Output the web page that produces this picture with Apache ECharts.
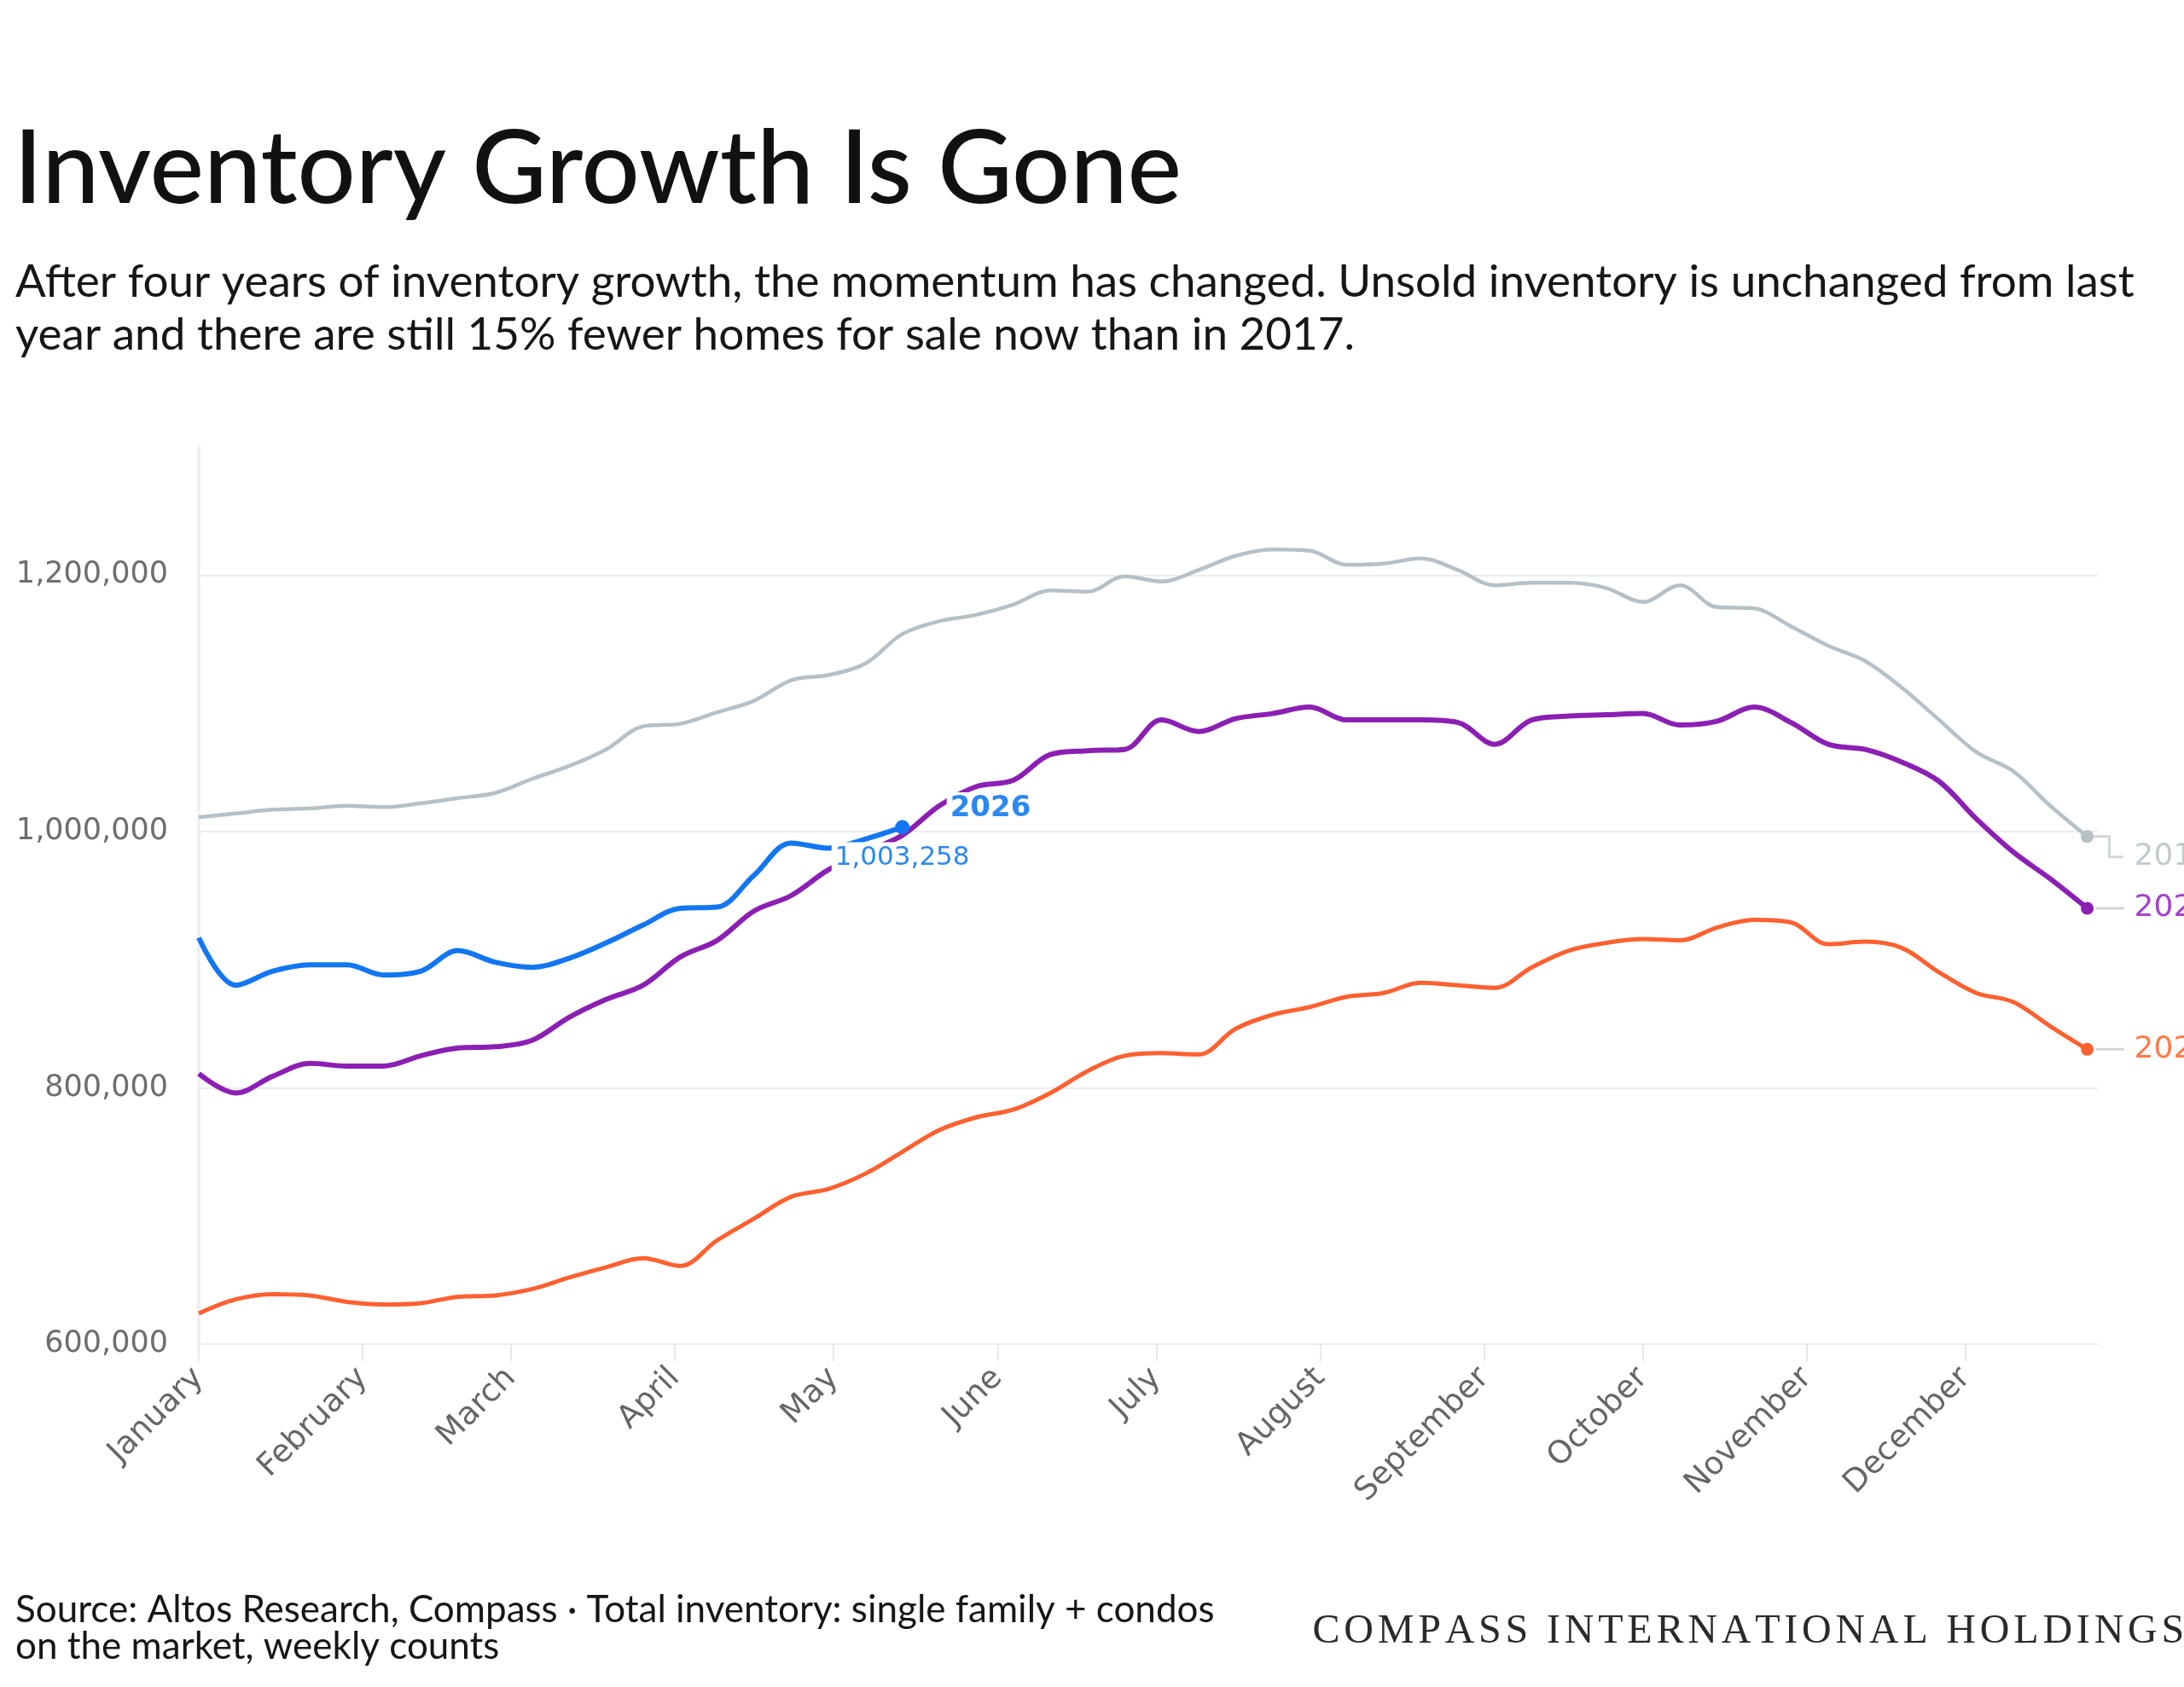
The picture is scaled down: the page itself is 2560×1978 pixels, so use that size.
<!DOCTYPE html>
<html><head><meta charset="utf-8">
<script src="https://cdn.jsdelivr.net/npm/echarts@6/dist/echarts.min.js"></script>
<style>html,body{margin:0;padding:0;background:#fff}#chart{width:2560px;height:1978px}</style>
</head><body><div id="chart"></div>
<script>
// ---- data ----
const monthNames = ['January','February','March','April','May','June','July','August','September','October','November','December'];
const monthStartDays = [0,31,59,90,120,151,181,212,243,273,304,334];
const weekDays = [0,7,14,21,28,35,42,49,56,63,70,77,84,91,98,105,112,119,126,133,140,147,154,161,168,175,182,189,196,203,210,217,224,231,238,245,252,259,266,273,280,287,294,301,308,315,322,329,336,343,350,357];
const yTicks = [600000, 800000, 1000000, 1200000];
const seriesNames = ['2017','2024','2025','2026'];
const y2017 = [1011000,1014000,1017000,1018000,1020000,1019000,1022000,1026000,1030000,1041000,1051000,1064000,1082000,1084000,1093000,1102000,1118000,1122000,1131000,1154000,1164000,1169000,1177000,1188000,1187000,1199000,1195000,1204000,1215000,1220000,1219000,1208000,1209000,1213000,1204000,1192000,1194000,1194000,1190000,1179000,1192000,1175000,1174000,1160000,1145000,1133000,1112000,1087000,1062000,1047000,1020000,996000];
const y2024 = [624000,635000,639000,638000,633000,631000,632000,637000,638000,643000,652000,660000,667000,661000,681000,698000,715000,721000,733000,750000,767000,777000,783000,796000,813000,825000,827000,826000,846000,857000,863000,871000,874000,882000,880000,878000,894000,907000,913000,916000,915000,925000,931000,929000,912000,914000,909000,890000,874000,867000,848000,830000];
const y2025 = [811000,796000,809000,819000,817000,817000,825000,831000,832000,837000,855000,869000,880000,902000,915000,938000,950000,970000,984000,997000,1020000,1035000,1040000,1060000,1063000,1064000,1087000,1078000,1088000,1092000,1097000,1087000,1087000,1087000,1085000,1068000,1087000,1090000,1091000,1092000,1083000,1086000,1097000,1085000,1068000,1064000,1054000,1039000,1010000,984000,963000,940000];
const y2026 = [917000,880000,891000,896000,896000,888000,891000,907000,898000,894000,901000,913000,927000,940000,941000,966000,991000,987000,994000,1003258];

const brandText = 'COMPASS INTERNATIONAL HOLDINGS';
const C = {gray:'#b6c0c6', orange:'#ff6030', purple:'#8c1fb3', blue:'#1276f2'};
const fmt = v => Number(v).toLocaleString('en-US');
const pair = arr => arr.map((v,i)=>[weekDays[i], v]);
const endSize = (n, s) => (val, p) => p.dataIndex === n-1 ? s : 0;

const labelFont = 'DejaVu Sans';
function endLab(text, color, dy){
  return {show:true, formatter:text, distance:0, offset:[55, dy], color:color,
    fontFamily:labelFont, fontSize:36, align:'left', verticalAlign:'middle'};
}
function lineSeries(name, arr, color, width, endLabel){
  return {
    name:name, type:'line', data:pair(arr), smooth:0.35,
    showSymbol:true, showAllSymbol:true, symbol:'circle', symbolSize:endSize(arr.length, 15),
    lineStyle:{color:color, width:width}, itemStyle:{color:color},
    endLabel:endLabel, emphasis:{disabled:true}, z:3
  };
}

const blueData = pair(y2026).map((d,i,a)=> i === a.length-1 ? {
  value:d, label:{show:true, position:'bottom', distance:9, formatter:p=>fmt(p.value[1]),
    color:'#2b88f0', fontFamily:labelFont, fontSize:31, backgroundColor:'#fff', padding:[3,4]}
} : d);

// brand text: each letter as a rich token so it can be letter-spaced
const brandRich = brandText.split('').map(ch => ch === ' ' ? '{s| }' : '{l|' + ch + '}').join('');
const brandStyle = {fontFamily:'Liberation Serif', fontSize:48, fontWeight:'normal', color:'#2a2a2a', padding:[0,2.4,0,2.4]};

const chart = echarts.init(document.getElementById('chart'), null, {renderer:'canvas'});
chart.setOption({
  animation:false,
  backgroundColor:'#fff',
  title:[
    {text:'Inventory Growth Is Gone', left:16, top:139, padding:0,
     textStyle:{fontFamily:'Lato', fontSize:120, fontWeight:500, color:'#111'}},
    {text:'After four years of inventory growth, the momentum has changed. Unsold inventory is unchanged from last\nyear and there are still 15% fewer homes for sale now than in 2017.',
     left:18, top:300, padding:0,
     textStyle:{fontFamily:'Lato', fontSize:53, lineHeight:62, fontWeight:'normal', color:'#161616'}},
    {text:'Source: Altos Research, Compass · Total inventory: single family + condos\non the market, weekly counts',
     left:18, top:1866, padding:0,
     textStyle:{fontFamily:'Lato', fontSize:44, lineHeight:43, fontWeight:'normal', color:'#161616'}},
    {text:brandRich, left:1536, top:1889, padding:0,
     textStyle:{fontWeight:'normal', fontFamily:'Liberation Serif', fontSize:48, rich:{l:brandStyle, s:brandStyle}}}
  ],
  grid:{left:233, right:101, top:524, bottom:402, containLabel:false},
  xAxis:{
    type:'value', min:0, max:359,
    axisLine:{show:false},
    splitLine:{show:false},
    axisTick:{show:true, customValues:monthStartDays, length:20, lineStyle:{color:'#e8e8e8', width:2}},
    axisLabel:{customValues:monthStartDays, formatter:v=>monthNames[monthStartDays.indexOf(v)],
      rotate:45, margin:34, fontFamily:labelFont, fontSize:37, color:'#666'}
  },
  yAxis:{
    type:'value', min:600000, max:1300000, interval:200000,
    axisLine:{show:true, lineStyle:{color:'#f0f0f0', width:4}},
    axisTick:{show:false},
    splitLine:{show:true, showMaxLine:false, lineStyle:{color:'#ececec', width:2}},
    axisLabel:{showMaxLabel:false, formatter:v=>fmt(v), margin:36, fontFamily:labelFont, fontSize:35, color:'#6e6e6e'}
  },
  series:[
    {type:'custom', coordinateSystem:'cartesian2d', silent:true, clip:false, z:1,
     data:[[weekDays[51], y2017[51]], [weekDays[51], y2025[51]], [weekDays[51], y2024[51]]],
     renderItem:(params, api)=>{
       const p = api.coord([api.value(0), api.value(1)]);
       const pts = params.dataIndex === 0
         ? [[p[0]+6,p[1]],[p[0]+26,p[1]],[p[0]+26,p[1]+24],[p[0]+42,p[1]+24]]
         : [[p[0]+10,p[1]],[p[0]+43,p[1]]];
       return {type:'polyline', shape:{points:pts}, style:{stroke:'#cfd5d8', lineWidth:3, fill:null}};
     }},
    lineSeries(seriesNames[0], y2017, C.gray, 4.5, endLab('2017', '#c3cbd0', 24)),
    lineSeries(seriesNames[1], y2024, C.orange, 5, endLab('2024', '#ff7b48', 0)),
    lineSeries(seriesNames[2], y2025, C.purple, 6, endLab('2025', '#a444cc', 0)),
    Object.assign(lineSeries(seriesNames[3], y2026, C.blue, 6,
      {show:true, formatter:'2026', distance:0, offset:[52,-22], color:'#2b88f0', fontFamily:labelFont,
       fontSize:34, fontWeight:'bold', align:'left', verticalAlign:'middle', backgroundColor:'#fff', padding:[2,4]}),
      {data:blueData, symbolSize:endSize(y2026.length, 17)})
  ]
});
</script></body></html>
